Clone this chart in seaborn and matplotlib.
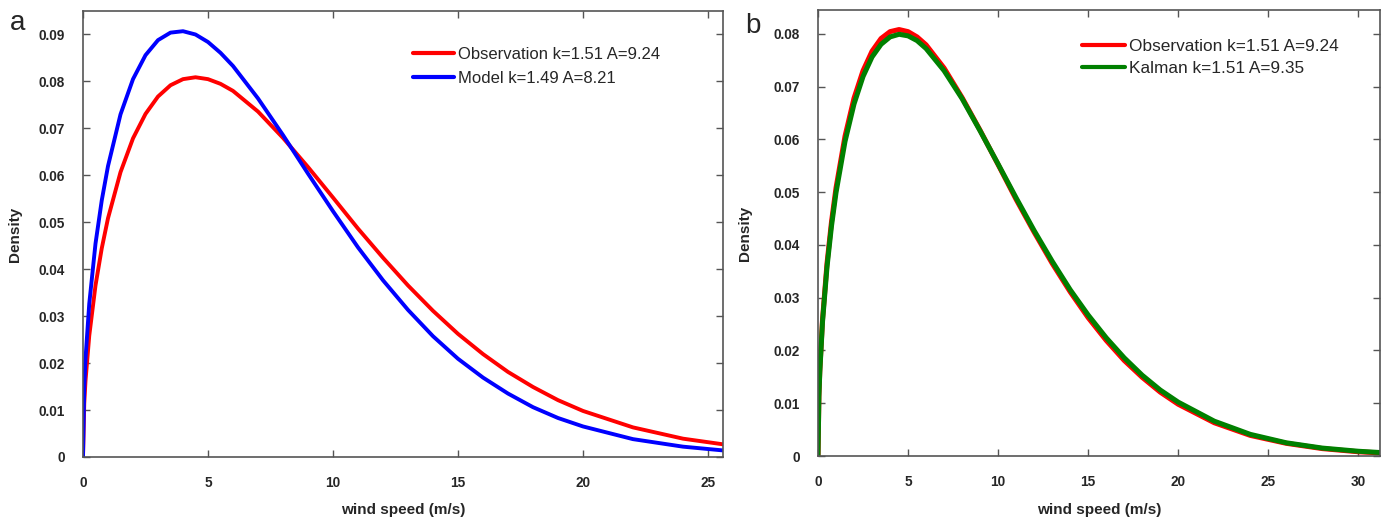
import matplotlib
matplotlib.use("Agg")
import matplotlib.pyplot as plt
import seaborn as sns
import pandas as pd

# ---- data ----
speed_a = [0, 0.05, 0.1, 0.25, 0.5, 0.75, 1, 1.5, 2, 2.5, 3, 3.5, 4, 4.5, 5, 5.5,
           6, 7, 8, 9, 10, 11, 12, 13, 14, 15, 16, 17, 18, 19, 20, 22, 24, 26]
speed_b = speed_a + [28, 30, 32]

obs = [0, 0.0114, 0.0162, 0.0258, 0.0365, 0.0444, 0.0508, 0.0606, 0.0678, 0.0730,
       0.0767, 0.0791, 0.0804, 0.0808, 0.0804, 0.0794, 0.0779, 0.0735, 0.0679,
       0.0617, 0.0552, 0.0486, 0.0424, 0.0365, 0.0311, 0.0262, 0.0219, 0.0181,
       0.0149, 0.0121, 0.0098, 0.0063, 0.0039, 0.0024, 0.0014, 0.0008, 0.00045]
model = [0, 0.0149, 0.0209, 0.0326, 0.0454, 0.0546, 0.0619, 0.0729, 0.0804, 0.0855,
         0.0887, 0.0903, 0.0906, 0.0899, 0.0883, 0.0860, 0.0832, 0.0763, 0.0685,
         0.0603, 0.0523, 0.0446, 0.0376, 0.0313, 0.0257, 0.0209, 0.0169, 0.0135,
         0.0106, 0.0083, 0.0065, 0.0038, 0.0022, 0.0012]
kalman = [0, 0.0112, 0.0159, 0.0254, 0.0358, 0.0436, 0.0499, 0.0596, 0.0667, 0.0719,
          0.0756, 0.0780, 0.0794, 0.0799, 0.0796, 0.0787, 0.0772, 0.0730, 0.0677,
          0.0616, 0.0553, 0.0489, 0.0427, 0.0369, 0.0315, 0.0267, 0.0224, 0.0186,
          0.0153, 0.0125, 0.0102, 0.0066, 0.0041, 0.0025, 0.0015, 0.0009, 0.0005]

lab_obs = "Observation k=1.51 A=9.24"
lab_model = "Model k=1.49 A=8.21"
lab_kal = "Kalman k=1.51 A=9.35"

yticks_a = [0, 0.01, 0.02, 0.03, 0.04, 0.05, 0.06, 0.07, 0.08, 0.09]
yticks_b = [0, 0.01, 0.02, 0.03, 0.04, 0.05, 0.06, 0.07, 0.08]
xticks_a = [0, 5, 10, 15, 20, 25]
xticks_b = [0, 5, 10, 15, 20, 25, 30]

df_a = pd.concat([
    pd.DataFrame({"speed": speed_a, "density": obs[:len(speed_a)], "series": lab_obs}),
    pd.DataFrame({"speed": speed_a, "density": model, "series": lab_model}),
])
df_b = pd.concat([
    pd.DataFrame({"speed": speed_b, "density": obs, "series": lab_obs}),
    pd.DataFrame({"speed": speed_b, "density": kalman, "series": lab_kal}),
])

sns.set_style("white")
plt.rcParams["font.family"] = ["Liberation Sans", "DejaVu Sans"]

W, H = 1388, 520
fig = plt.figure(figsize=(W / 100, H / 100), dpi=100)
ax_a = fig.add_axes([83 / W, 1 - 457 / H, (723 - 83) / W, (457 - 11) / H])
ax_b = fig.add_axes([818 / W, 1 - 456 / H, (1380 - 818) / W, (456 - 10) / H])

sns.lineplot(data=df_a, x="speed", y="density", hue="series", ax=ax_a,
             palette={lab_obs: "#ff0000", lab_model: "#0000ff"}, linewidth=2.8,
             sort=False, estimator=None)
sns.lineplot(data=df_b, x="speed", y="density", hue="series", ax=ax_b,
             palette={lab_obs: "#ff0000", lab_kal: "#008000"}, linewidth=3.6,
             sort=False, estimator=None)

def fmt(v):
    return "0" if v == 0 else ("%.2f" % v)

for ax, xt, yt, xmax, ymax, ylx, xly in [
        (ax_a, xticks_a, yticks_a, 25.6, 0.0949, -0.106, -0.119),
        (ax_b, xticks_b, yticks_b, 31.2, 0.0845, -0.130, -0.121)]:
    ax.set_xlim(0, xmax)
    ax.set_ylim(0, ymax)
    ax.set_xticks(xt)
    ax.set_yticks(yt)
    ax.set_xticklabels([str(v) for v in xt], fontweight="bold", fontsize=9.8)
    ax.set_yticklabels([fmt(v) for v in yt], fontweight="bold", fontsize=9.8)
    ax.tick_params(direction="in", length=5, width=1, color="#555555",
                   top=True, right=True, bottom=True, left=True)
    ax.tick_params(axis="x", pad=14)
    ax.tick_params(axis="y", pad=13)
    for s in ax.spines.values():
        s.set_color("#555555")
        s.set_linewidth(1.2)
    ax.set_xlabel("wind speed (m/s)", fontweight="bold", fontsize=11)
    ax.set_ylabel("Density", fontweight="bold", fontsize=11)
    ax.xaxis.set_label_coords(0.5, xly)
    ax.xaxis.label.set_va("center")
    ax.yaxis.set_label_coords(ylx, 0.5)
    ax.yaxis.label.set_va("center")

leg_a = ax_a.legend(loc="upper left", bbox_to_anchor=(0.515, 0.92), frameon=False,
                    fontsize=12, handlelength=2.5, handletextpad=0.2,
                    labelspacing=0.54, borderaxespad=0, borderpad=0)
leg_b = ax_b.legend(loc="upper left", bbox_to_anchor=(0.47, 0.936), frameon=False,
                    fontsize=12.4, handlelength=2.5, handletextpad=0.2,
                    labelspacing=0.45, borderaxespad=0, borderpad=0)
for lg in (leg_a, leg_b):
    for ln in lg.get_lines():
        ln.set_linewidth(3)

fig.text(10 / W, 1 - 30 / H, "a", fontsize=20)
fig.text(745 / W, 1 - 33 / H, "b", fontsize=20)

fig.savefig("out.png", dpi=100)
